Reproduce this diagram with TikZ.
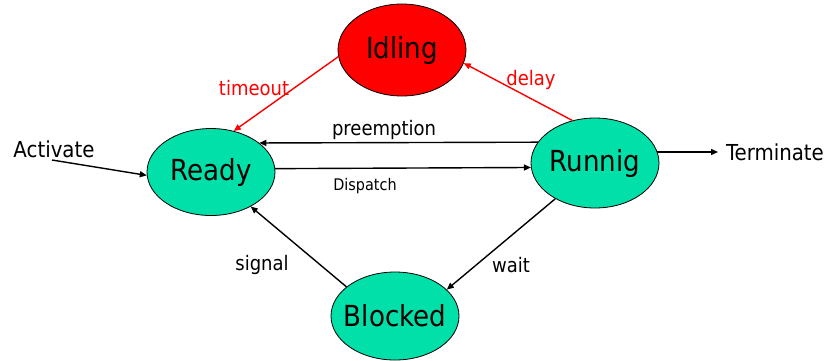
\documentclass[tikz,border=0pt]{standalone}
\usepackage{fontspec}
\setmainfont{DejaVu Sans Condensed}
\usetikzlibrary{shapes.geometric,arrows.meta}
\definecolor{mint}{RGB}{0,224,168}
\definecolor{hot}{RGB}{255,0,0}
\tikzset{
  stateA/.style={ellipse, draw=black, line width=0.8pt, fill=mint,
    minimum width=128pt, minimum height=88pt, inner sep=0pt},
  stext/.style={label={[inner sep=0pt, font=\fontsize{29}{30}\selectfont]center:#1}},
  edge/.style={-{Triangle[length=7pt,width=6pt]}, line width=1.4pt},
  hotedge/.style={edge, draw=hot},
  lbl/.style={inner sep=0pt, font=\fontsize{20}{22}\selectfont},
  small/.style={inner sep=0pt, font=\fontsize{16}{18}\selectfont},
}
\begin{document}
\begin{tikzpicture}[x=1pt,y=-1pt]
\useasboundingbox (0,0) rectangle (835,360);

% states
\node[stateA, fill=hot, minimum height=92pt, stext=Idling] (idle) at (402,50) {};
\node[stateA, minimum height=87pt, stext=Ready] (ready) at (211,172) {};
\node[stateA, minimum height=90pt, stext=Runnig] (run) at (595,163) {};
\node[stateA, stext=Blocked] (block) at (395,316) {};

% outside labels
\node[lbl, font=\fontsize{22}{24}\selectfont] (act) at (54,149) {Activate};
\node[lbl, font=\fontsize{22}{24}\selectfont, anchor=west, inner xsep=8pt] (term) at (718,152) {Terminate};
\coordinate (actend) at (52,160);

% transitions
\draw[hotedge] (idle.186) -- (ready.61);
\draw[hotedge] (run.118) -- (idle.-12);
\draw[edge] (run.160.7) -- (ready.31.7);
\draw[edge] (ready.3.6) -- (run.184.5);
\draw[edge] (actend) -- (ready.183.6);
\draw[edge] (run.10) -- (run.10 -| term.west);
\draw[edge] (block.149.4) -- (ready.-41.3);
\draw[edge] (run.222.8) -- (block.27);

% transition labels
\node[lbl, text=hot] (lto) at (254,88) {timeout};
\node[lbl, text=hot] (ldl) at (531,80) {delay};
\node[lbl] (lpre) at (384,130) {preemption};
\node[small] (ldis) at (365,186) {Dispatch};
\node[lbl] (lsig) at (262,265) {signal};
\node[lbl] (lwait) at (511,265) {wait};
\end{tikzpicture}
\end{document}
